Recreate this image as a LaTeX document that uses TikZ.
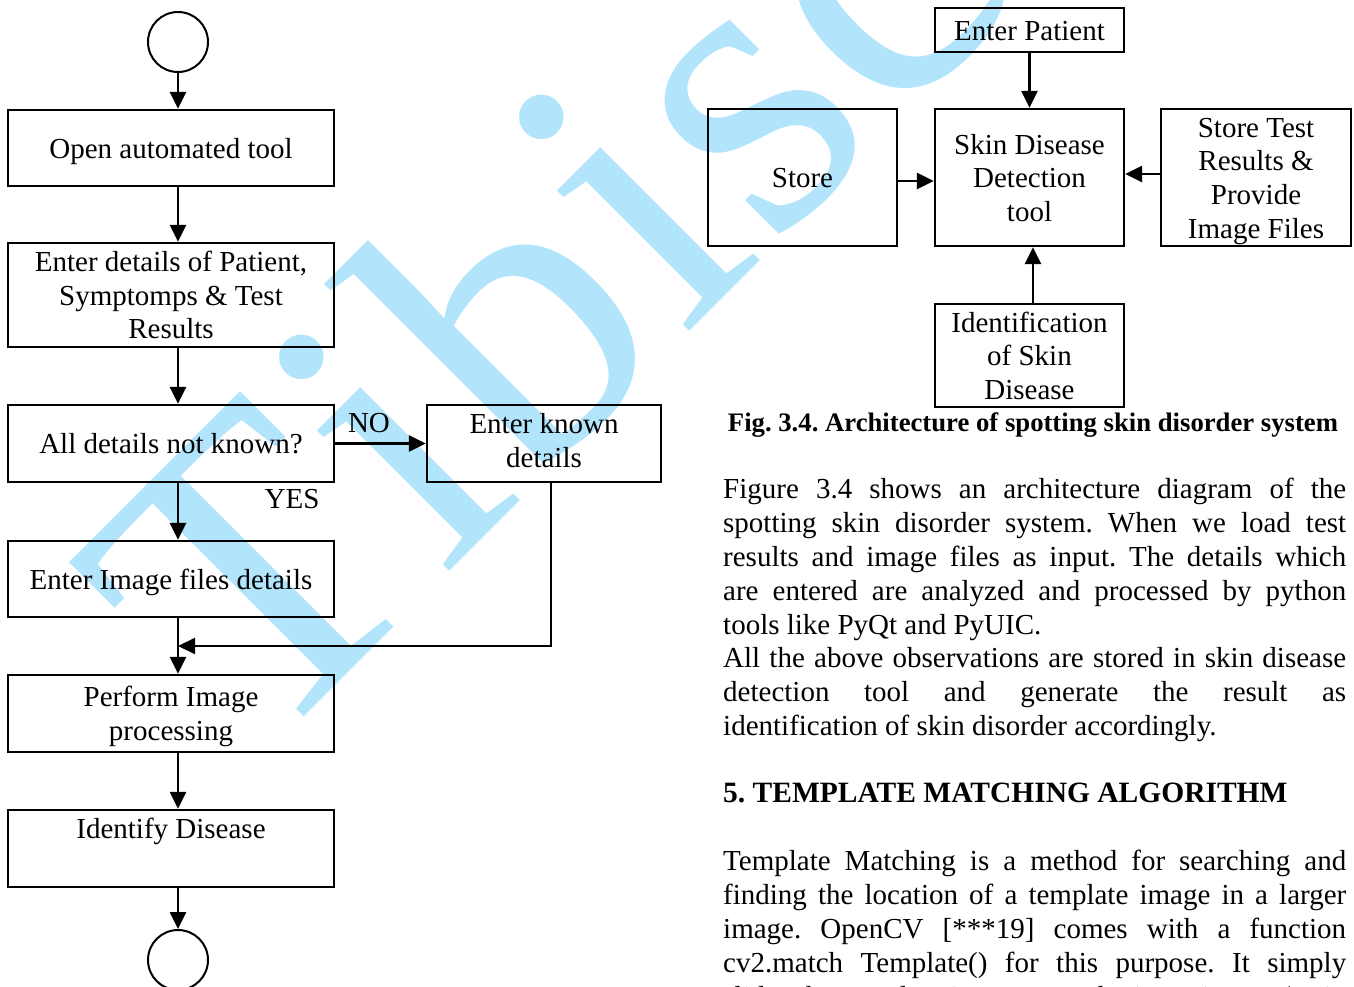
\documentclass[tikz,border=0pt]{standalone}
\usepackage{fontspec}
\setmainfont{Liberation Serif}
\usetikzlibrary{arrows.meta}
\definecolor{wm}{RGB}{178,228,252}
\frenchspacing
\tikzset{
  box/.style={draw, line width=2.4pt, inner sep=0pt, align=center, font=\fontsize{29}{33.7}\selectfont},
  arr/.style={line width=2.6pt, -{Triangle[length=17pt,width=16pt]}},
  thinarr/.style={line width=2pt, -{Triangle[length=17pt,width=16pt]}},
  lbl/.style={inner sep=0pt, font=\fontsize{29}{33.7}\selectfont},
  para/.style={anchor=base west, inner sep=0pt, font=\fontsize{29}{33.7}\selectfont},
  ring/.style={draw, circle, line width=2pt, minimum size=60pt, inner sep=0pt},
}
\newcommand{\jl}[1]{\makebox[623pt][s]{#1}}
\newcommand{\tk}{\kern6pt}
\newcommand{\ls}{\rule[-6.6pt]{0pt}{33.7pt}}
\begin{document}
\begin{tikzpicture}[x=1pt,y=-1pt]
\useasboundingbox (0,0) rectangle (1354,987);
% watermark
\node[rotate=45, anchor=base west, inner sep=0pt, text=wm, font=\fontsize{420}{420}\selectfont] (wmark) at (258,763) {T\tk i\tk b\tk i\tk s\tk c\tk u\tk s};

% left flowchart
\node[ring] (start) at (178,42) {};
\node[box, minimum width=326pt, minimum height=76pt] (b1) at (171,148) {\ls Open automated tool};
\node[box, minimum width=326pt, minimum height=104pt] (b2) at (171,295) {\ls Enter details of Patient,\\ \ls Symptomps \& Test\\ \ls Results};
\node[box, minimum width=326pt, minimum height=77pt] (b3) at (171,443.5) {\ls All details not known?};
\node[box, minimum width=234pt, minimum height=77pt] (b4) at (544,443.5) {\strut Enter known\\ \strut details};
\node[box, minimum width=326pt, minimum height=76pt] (b5) at (171,579) {\ls Enter Image files details};
\node[box, minimum width=326pt, minimum height=77pt] (b6) at (171,713.5) {\ls Perform Image\\ \ls processing};
\node[box, minimum width=326pt, minimum height=77pt] (b7) at (171,848.5) {\strut Identify Disease\\ \strut};
\node[ring] (end) at (178,960) {};

\node[lbl] (no) at (369,423) {NO};
\node[lbl] (yes) at (292,499) {YES};

\draw[arr] (start) -- (b1.north -| start);
\draw[arr] (b1.south -| start) -- (b2.north -| start);
\draw[arr] (b2.south -| start) -- (b3.north -| start);
\draw[arr] (b3.east) -- (b4.west);
\draw[arr] (b3.south -| start) -- (b5.north -| start);
\draw[arr] (b5.south -| start) -- (b6.north -| start);
\draw[arr] (b6.south -| start) -- (b7.north -| start);
\draw[arr] (b7.south -| start) -- (end);
\coordinate (fb) at (551,646);
\draw[thinarr] (b4.south -| fb) -- (fb) -- (fb -| start);

% right architecture diagram
\node[box, minimum width=189pt, minimum height=44pt] (ep) at (1029.5,30) {\ls Enter Patient};
\node[box, minimum width=189pt, minimum height=137pt] (sdd) at (1029.5,177.5) {\ls Skin Disease\\ \ls Detection\\ \ls tool};
\node[box, minimum width=189pt, minimum height=137pt] (st) at (802.5,177.5) {\ls Store};
\node[box, minimum width=190pt, minimum height=137pt] (stt) at (1256,177.5) {\ls Store Test\\ \ls Results \&\\ \ls Provide\\ \ls Image Files};
\node[box, minimum width=189pt, minimum height=103pt] (idn) at (1029.5,355.5) {\ls Identification\\ \ls of Skin\\ \ls Disease};

\draw[arr] (ep) -- (sdd);
\draw[arr] (st.east |- 0,181) -- (sdd.west |- 0,181);
\draw[arr] (stt.west |- 0,174) -- (sdd.east |- 0,174);
\draw[arr] (idn.north -| 1033,0) -- (sdd.south -| 1033,0);

\node[anchor=base, inner sep=0pt, font=\fontsize{26.7}{30}\selectfont\bfseries] (cap) at (1033,431) {Fig. 3.4. Architecture of spotting skin disorder system};

% body text
\node[para] (l1) at (723,498) {\jl{Figure 3.4 shows an architecture diagram of the}};
\node[para] (l2) at (723,532) {\jl{spotting skin disorder system. When we load test}};
\node[para] (l3) at (723,566) {\jl{results and image files as input. The details which}};
\node[para] (l4) at (723,600) {\jl{are entered are analyzed and processed by python}};
\node[para] (l5) at (723,634) {tools like PyQt and PyUIC.};
\node[para] (l6) at (723,667) {\jl{All the above observations are stored in skin disease}};
\node[para] (l7) at (723,701) {\jl{detection tool and generate the result as}};
\node[para] (l8) at (723,735) {identification of skin disorder accordingly.};
\node[para, font=\fontsize{29.5}{33.7}\selectfont\bfseries] (h5) at (723,802) {5. TEMPLATE MATCHING ALGORITHM};
\node[para] (t1) at (723,870) {\jl{Template Matching is a method for searching and}};
\node[para] (t2) at (723,904) {\jl{finding the location of a template image in a larger}};
\node[para] (t3) at (723,938) {\jl{image. OpenCV [***19] comes with a function}};
\node[para] (t4) at (723,972) {\jl{cv2.match Template() for this purpose. It simply}};
\node[para] (t5) at (723,1006) {\jl{slides the template image over the input image (as in}};
\end{tikzpicture}
\end{document}
